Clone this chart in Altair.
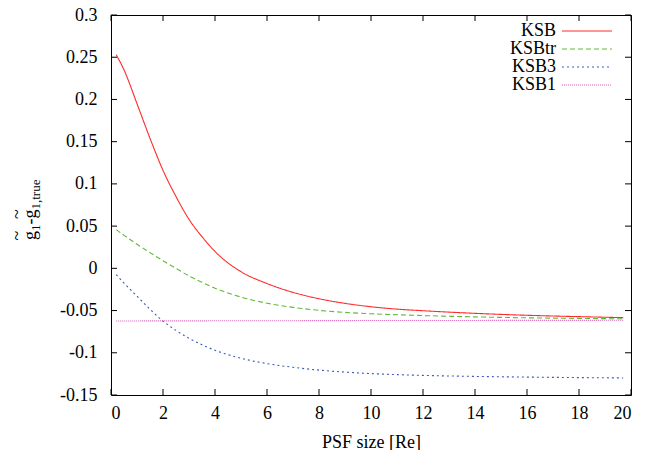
import altair as alt
import pandas as pd

# ---- data ----
psf = [0.2, 0.5, 1, 1.5, 2, 2.5, 3, 3.5, 4, 5, 6, 7, 8, 9, 10, 11, 12, 14, 16, 18, 19.7]
ksb = [0.253, 0.235, 0.195, 0.154, 0.116, 0.085, 0.058, 0.0375, 0.020, -0.004, -0.018,
       -0.0285, -0.036, -0.0415, -0.0455, -0.0483, -0.0502, -0.0533, -0.0556, -0.0572, -0.0584]
ksbtr = [0.0458, 0.0392, 0.0285, 0.0186, 0.009, -0.0001, -0.009, -0.0165, -0.0235, -0.034, -0.0413,
         -0.0462, -0.0498, -0.0522, -0.0538, -0.0550, -0.0559, -0.0575, -0.0586, -0.0593, -0.0598]
ksb3 = [-0.0075, -0.0174, -0.033, -0.0484, -0.0625, -0.0735, -0.0828, -0.0905, -0.0970, -0.1065, -0.1128,
        -0.1172, -0.1205, -0.1229, -0.1246, -0.1259, -0.1268, -0.1280, -0.1288, -0.1294, -0.1298]
ksb1 = [-0.0623, -0.0623, -0.0623, -0.0622, -0.0622, -0.0622, -0.0622, -0.0622, -0.0621, -0.0621, -0.0620,
        -0.0620, -0.0619, -0.0619, -0.0618, -0.0618, -0.0617, -0.0617, -0.0616, -0.0616, -0.0615]

series_names = ["KSB", "KSBtr", "KSB3", "KSB1"]
series_values = [ksb, ksbtr, ksb3, ksb1]
series_colors = ["#ff2a2a", "#5fba3a", "#3a5cbc", "#d45cb8"]
series_dashes = [[1, 0], [5, 3], [2, 3], [1, 1]]

x_ticks = [0, 2, 4, 6, 8, 10, 12, 14, 16, 18, 20]
y_ticks = [-0.15, -0.1, -0.05, 0, 0.05, 0.1, 0.15, 0.2, 0.25, 0.3]

rows = []
for name, vals in zip(series_names, series_values):
    for xv, yv in zip(psf, vals):
        rows.append({"psf": xv, "val": yv, "series": name})
df = pd.DataFrame(rows)

W, H = 520, 380
FONT = "Liberation Serif, Times New Roman, serif"
TL = 6  # inward tick length

xscale = alt.Scale(domain=[0, 20], nice=False, zero=False)
yscale = alt.Scale(domain=[-0.15, 0.3], nice=False, zero=False)

legend_common = dict(
    orient="none", legendX=467, legendY=7, title=None, symbolType="M-5,0H5",
    symbolSize=100, symbolStrokeWidth=1, labelFont=FONT, labelFontSize=18,
    labelColor="black", labelAlign="right", labelOffset={"expr": "-40"}, padding=0,
    rowPadding=0,
)

lines = alt.Chart(df).mark_line(strokeWidth=1.1, interpolate="monotone").encode(
    x=alt.X("psf:Q", scale=xscale,
            axis=alt.Axis(values=x_ticks, title="PSF size [Re]", ticks=False, tickSize=0,
                          domain=False, grid=False, labelFont=FONT, labelFontSize=18,
                          labelColor="black", labelPadding=9, titleFont=FONT,
                          titleFontSize=18, titleFontWeight="normal", titleColor="black",
                          titlePadding=11)),
    y=alt.Y("val:Q", scale=yscale,
            axis=alt.Axis(values=y_ticks, title=None, ticks=False, tickSize=0, domain=False,
                          grid=False, labelFont=FONT, labelFontSize=18, labelColor="black",
                          labelPadding=14,
                          labelExpr="datum.value < 0 ? '-' + format(-datum.value, '~g') : format(datum.value, '~g')")),
    color=alt.Color("series:N", sort=series_names,
                    scale=alt.Scale(domain=series_names, range=series_colors),
                    legend=alt.Legend(**legend_common)),
    strokeDash=alt.StrokeDash("series:N", sort=series_names,
                              scale=alt.Scale(domain=series_names, range=series_dashes),
                              legend=alt.Legend(**legend_common)),
)

xt = pd.DataFrame({"t": x_ticks})
yt = pd.DataFrame({"t": y_ticks})
tick_col = "black"
bottom = alt.Chart(xt).mark_rule(color=tick_col).encode(
    x=alt.X("t:Q", scale=xscale), y=alt.value(H - TL), y2=alt.value(H))
top = alt.Chart(xt).mark_rule(color=tick_col).encode(
    x=alt.X("t:Q", scale=xscale), y=alt.value(0), y2=alt.value(TL))
left = alt.Chart(yt).mark_rule(color=tick_col).encode(
    y=alt.Y("t:Q", scale=yscale), x=alt.value(0), x2=alt.value(TL))
right = alt.Chart(yt).mark_rule(color=tick_col).encode(
    y=alt.Y("t:Q", scale=yscale), x=alt.value(W - TL), x2=alt.value(W))


def piece(text, px, py, size, align="left"):
    return alt.Chart(alt.Data(values=[{}])).mark_text(
        angle=270, align=align, baseline="middle", font=FONT, fontSize=size, color="black"
    ).encode(text=alt.value(text), x=alt.value(px), y=alt.value(py))


# y-axis title: g~_1 - g~_{1,true}, rotated
ox, oy = -111, -15  # page -> plot coordinates
title_parts = [
    piece("g", 31 + ox, 240 + oy, 18),
    piece("1", 36 + ox, 231 + oy, 13),
    piece("-", 31 + ox, 224.5 + oy, 18),
    piece("g", 31 + ox, 218.5 + oy, 18),
    piece("1,true", 36 + ox, 209.5 + oy, 13),
    piece("~", 18 + ox, 235.5 + oy, 18, "center"),
    piece("~", 18 + ox, 214 + oy, 18, "center"),
]

chart = alt.layer(lines, bottom, top, left, right, *title_parts).properties(
    width=W, height=H,
    autosize=alt.AutoSizeParams(type="none"),
    padding={"left": 103, "top": 7, "right": 20, "bottom": 55},
    background="white",
).configure(font=FONT).configure_view(stroke="black", strokeWidth=1).configure_axis(
    labelFont=FONT, titleFont=FONT
).configure_legend(labelFont=FONT)

chart.save("out.html", embed_options={"renderer": "svg", "actions": False})
